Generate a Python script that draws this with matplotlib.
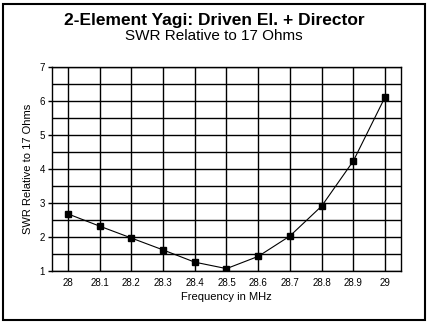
import numpy as np
import matplotlib.pyplot as plt
from matplotlib.patches import Rectangle

plt.rcParams['font.family'] = ['Liberation Sans', 'DejaVu Sans']

# Data
freq = [28.0, 28.1, 28.2, 28.3, 28.4, 28.5, 28.6, 28.7, 28.8, 28.9, 29.0]
swr = [2.68, 2.32, 1.97, 1.62, 1.26, 1.07, 1.43, 2.03, 2.91, 4.24, 6.12]
x_labels = ["28", "28.1", "28.2", "28.3", "28.4", "28.5", "28.6", "28.7", "28.8", "28.9", "29"]

fig = plt.figure(figsize=(4.28, 3.25), dpi=100)
W, H = 428, 325

# outer frame
fig.patches.append(Rectangle((3 / W, 1 - 320 / H), 422 / W, 316 / H,
                             transform=fig.transFigure, fill=False,
                             edgecolor="black", linewidth=1.5))

ax = fig.add_axes([52 / W, 1 - 271 / H, 349 / W, 204 / H])

ax.plot(freq, swr, color="black", linewidth=0.8,
        marker="s", markersize=5, markerfacecolor="black", zorder=3)

ax.set_xlim(27.95, 29.05)
ax.set_ylim(1, 7)
ax.set_xticks(freq)
ax.set_xticklabels(x_labels, fontsize=7)
ax.set_yticks(range(1, 8))
ax.set_yticks(np.arange(1.5, 7, 1.0), minor=True)
ax.tick_params(axis="y", which="major", labelsize=7, length=3, width=1, pad=2)
ax.tick_params(axis="y", which="minor", length=0)
ax.tick_params(axis="x", length=0, pad=5)
ax.grid(True, which="both", color="black", linewidth=1)
for s in ax.spines.values():
    s.set_linewidth(1)

ax.set_xlabel("Frequency in MHz", fontsize=8, labelpad=3)
ax.set_ylabel("SWR Relative to 17 Ohms", fontsize=8, labelpad=5)

fig.text(0.5, 1 - 20 / H, "2-Element Yagi: Driven El. + Director",
         ha="center", va="center", fontsize=12.5, fontweight="bold")
fig.text(0.5, 1 - 36 / H, "SWR Relative to 17 Ohms",
         ha="center", va="center", fontsize=11)

fig.savefig("out.png", dpi=100)
